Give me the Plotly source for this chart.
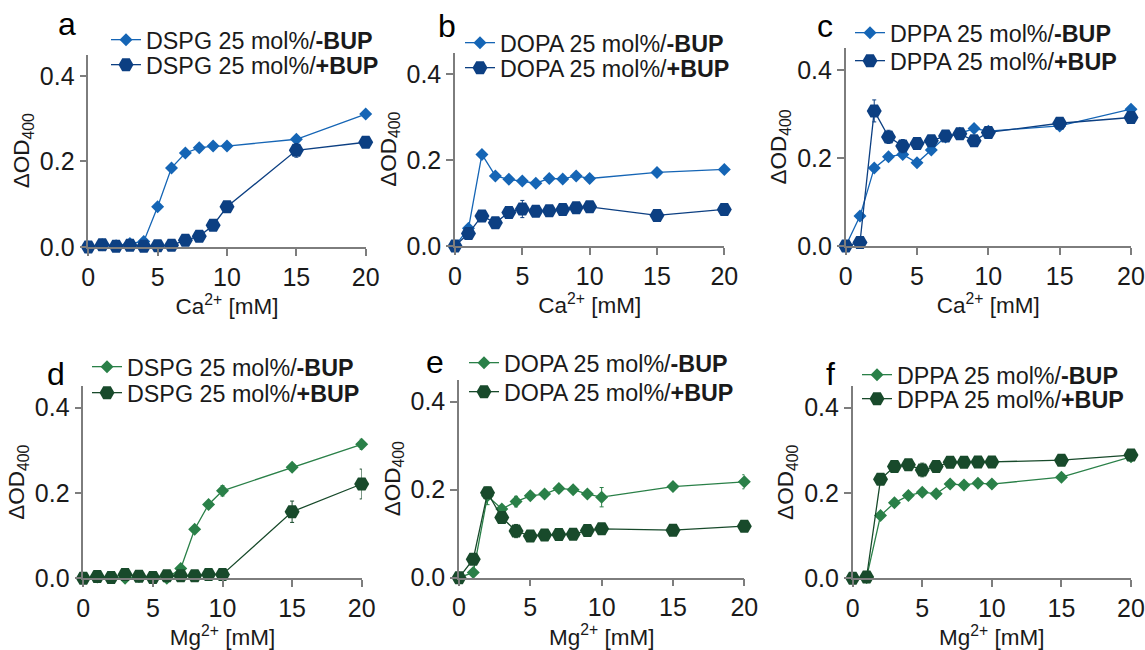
import plotly.graph_objects as go

# ---------------- data ----------------
conc = [0, 1, 2, 3, 4, 5, 6, 7, 8, 9, 10, 15, 20]
x_ticks = [0, 5, 10, 15, 20]
y_ticks = [0.0, 0.2, 0.4]

# Ca2+ panels
a_minus = [0.0, 0.005, 0.003, 0.008, 0.013, 0.094, 0.185, 0.220, 0.232, 0.236, 0.236, 0.252, 0.311]
a_minus_err = [0.002, 0.003, 0.003, 0.003, 0.003, 0.005, 0.005, 0.004, 0.004, 0.003, 0.003, 0.006, 0.004]
a_plus = [0.0, 0.005, 0.002, 0.004, 0.002, 0.003, 0.004, 0.016, 0.025, 0.051, 0.094, 0.226, 0.245]
a_plus_err = [0.002, 0.003, 0.002, 0.003, 0.002, 0.002, 0.002, 0.003, 0.003, 0.004, 0.004, 0.016, 0.005]

b_minus = [0.0, 0.041, 0.213, 0.163, 0.155, 0.151, 0.146, 0.157, 0.156, 0.163, 0.157, 0.171, 0.178]
b_minus_err = [0.002, 0.005, 0.005, 0.004, 0.003, 0.003, 0.003, 0.004, 0.003, 0.003, 0.003, 0.003, 0.003]
b_plus = [0.0, 0.029, 0.070, 0.054, 0.078, 0.086, 0.081, 0.082, 0.085, 0.089, 0.091, 0.071, 0.085]
b_plus_err = [0.002, 0.005, 0.004, 0.004, 0.004, 0.020, 0.004, 0.004, 0.004, 0.008, 0.004, 0.003, 0.003]

c_minus = [0.0, 0.068, 0.177, 0.203, 0.208, 0.189, 0.218, 0.248, 0.256, 0.267, 0.261, 0.273, 0.311]
c_minus_err = [0.002, 0.004, 0.005, 0.004, 0.004, 0.004, 0.005, 0.008, 0.008, 0.004, 0.004, 0.004, 0.004]
c_plus = [0.0, 0.008, 0.307, 0.248, 0.227, 0.233, 0.239, 0.250, 0.255, 0.239, 0.258, 0.279, 0.292]
c_plus_err = [0.002, 0.003, 0.025, 0.015, 0.015, 0.006, 0.006, 0.006, 0.006, 0.004, 0.004, 0.004, 0.004]

# Mg2+ panels
d_minus = [0.0, 0.003, 0.002, 0.0, 0.004, 0.001, 0.0, 0.023, 0.115, 0.173, 0.205, 0.260, 0.314]
d_minus_err = [0.002, 0.002, 0.002, 0.002, 0.002, 0.002, 0.002, 0.004, 0.004, 0.005, 0.012, 0.004, 0.012]
d_plus = [0.0, 0.004, 0.002, 0.009, 0.005, 0.002, 0.006, 0.006, 0.006, 0.009, 0.009, 0.156, 0.221]
d_plus_err = [0.002, 0.002, 0.002, 0.003, 0.002, 0.002, 0.002, 0.002, 0.002, 0.002, 0.002, 0.025, 0.035]

e_minus = [0.0, 0.012, 0.186, 0.156, 0.173, 0.186, 0.190, 0.203, 0.200, 0.190, 0.183, 0.207, 0.218]
e_minus_err = [0.002, 0.004, 0.020, 0.006, 0.012, 0.005, 0.005, 0.005, 0.005, 0.005, 0.022, 0.005, 0.016]
e_plus = [0.0, 0.042, 0.193, 0.137, 0.106, 0.095, 0.097, 0.098, 0.099, 0.107, 0.111, 0.108, 0.117]
e_plus_err = [0.002, 0.004, 0.010, 0.006, 0.015, 0.012, 0.012, 0.004, 0.004, 0.004, 0.004, 0.004, 0.004]

f_minus = [0.0, 0.002, 0.147, 0.177, 0.194, 0.202, 0.198, 0.221, 0.219, 0.223, 0.221, 0.237, 0.285]
f_minus_err = [0.002, 0.002, 0.005, 0.004, 0.004, 0.004, 0.004, 0.004, 0.004, 0.004, 0.004, 0.004, 0.006]
f_plus = [0.0, 0.003, 0.232, 0.262, 0.266, 0.254, 0.262, 0.272, 0.272, 0.273, 0.273, 0.277, 0.289]
f_plus_err = [0.002, 0.002, 0.006, 0.005, 0.005, 0.016, 0.004, 0.004, 0.004, 0.004, 0.004, 0.004, 0.004]

panel_letters = ["a", "b", "c", "d", "e", "f"]
lipids = ["DSPG", "DOPA", "DPPA", "DSPG", "DOPA", "DPPA"]
ions = ["Ca", "Ca", "Ca", "Mg", "Mg", "Mg"]

# ---------------- styling / layout ----------------
W, H = 1145, 650
FONT = "Liberation Sans, Arial, sans-serif"
TXT = "#1a1a1a"
AX = "#7d7d7d"
colors = {
    "Ca": ("#1565b5", "#0c3f82"),
    "Mg": ("#2a8048", "#184a2b"),
}


def px(x):
    return x / W


def py(y):
    return 1 - y / H


# pixel frame of each panel: x at 0, x at 20, y at 0.0, y at 0.45
frames = [
    (88.3, 365.7, 247.0, 54.6),
    (455.0, 724.3, 246.0, 52.5),
    (845.7, 1131.0, 246.0, 48.0),
    (83.3, 361.7, 578.3, 386.3),
    (459.0, 744.3, 577.7, 379.7),
    (852.7, 1131.0, 578.3, 386.4),
]
letter_pos = [(67, 24), (447, 26), (825, 26), (56, 374), (435, 362), (830, 374)]
legend_pos = [  # legend box left x, row1 y, row2 y
    (112, 40, 65),
    (466, 43, 68),
    (856, 33, 61),
    (93, 367, 393),
    (470, 363, 392),
    (863, 375, 399),
]

series = [
    (a_minus, a_minus_err, a_plus, a_plus_err),
    (b_minus, b_minus_err, b_plus, b_plus_err),
    (c_minus, c_minus_err, c_plus, c_plus_err),
    (d_minus, d_minus_err, d_plus, d_plus_err),
    (e_minus, e_minus_err, e_plus, e_plus_err),
    (f_minus, f_minus_err, f_plus, f_plus_err),
]

fig = go.Figure()
layout = dict(
    width=W, height=H,
    margin=dict(l=0, r=0, t=0, b=0, pad=0),
    paper_bgcolor="white", plot_bgcolor="white",
    font=dict(family=FONT, color=TXT, size=22),
    showlegend=True,
    annotations=[],
)

for i in range(6):
    n = "" if i == 0 else str(i + 1)
    xa, ya = "x" + n, "y" + n
    x0, x1, yb, yt = frames[i]
    light, dark = colors[ions[i]]
    mvals, merr, pvals, perr = series[i]

    leg1 = "legend" + ("" if i == 0 else str(2 * i + 1))
    leg2 = "legend" + str(2 * i + 2)

    fig.add_trace(go.Scatter(
        x=conc, y=mvals, xaxis=xa, yaxis=ya, mode="lines+markers",
        name=f"{lipids[i]} 25 mol%/<b>-BUP</b>", legend=leg1, showlegend=True,
        line=dict(color=light, width=1.3),
        marker=dict(symbol="diamond", size=10, color=light),
        error_y=dict(type="data", array=merr, color=light, thickness=1, width=2),
        cliponaxis=False,
    ))
    fig.add_trace(go.Scatter(
        x=conc, y=pvals, xaxis=xa, yaxis=ya, mode="lines+markers",
        name=f"{lipids[i]} 25 mol%/<b>+BUP</b>", legend=leg2, showlegend=True,
        line=dict(color=dark, width=1.3),
        marker=dict(symbol="hexagon2", size=15, color=dark),
        error_y=dict(type="data", array=perr, color=dark, thickness=1, width=2),
        cliponaxis=False,
    ))

    layout["xaxis" + n] = dict(
        domain=[px(x0), px(x1)], range=[0, 20], anchor=ya, automargin=False,
        tickvals=x_ticks, ticks="outside", ticklen=7, tickwidth=1.5, tickcolor=AX,
        showline=True, linecolor=AX, linewidth=1.5, showgrid=False, zeroline=False,
        tickfont=dict(size=25, color=TXT),
        title=dict(text=f"{ions[i]}<sup>2+</sup> [mM]", font=dict(size=22.5, color=TXT), standoff=2),
    )
    layout["yaxis" + n] = dict(
        domain=[py(yb), py(yt)], range=[0, 0.45], anchor=xa, automargin=False,
        tickvals=y_ticks, tickformat=".1f", ticks="outside", ticklen=7, tickwidth=1.5, tickcolor=AX,
        showline=True, linecolor=AX, linewidth=1.5, showgrid=False, zeroline=False,
        tickfont=dict(size=25, color=TXT),
        title=dict(text="ΔOD<sub>400</sub>", font=dict(size=22.5, color=TXT), standoff=4),
    )

    lx, ly1, ly2 = legend_pos[i]
    for leg, ly in ((leg1, ly1), (leg2, ly2)):
        layout[leg] = dict(
            x=px(lx - 6), y=py(ly), xanchor="left", yanchor="middle",
            bgcolor="rgba(0,0,0,0)", borderwidth=0, visible=True,
            font=dict(size=23.3, color=TXT, family=FONT),
            itemwidth=30, tracegroupgap=0,
        )

    lxp, lyp = letter_pos[i]
    layout["annotations"].append(dict(
        text=panel_letters[i], x=px(lxp), y=py(lyp), xref="paper", yref="paper",
        xanchor="center", yanchor="middle", showarrow=False,
        font=dict(size=32, color="#000000", family=FONT),
    ))

fig.update_layout(**layout)
fig.write_html(
    "out.html",
    config={"displayModeBar": False},
    post_script="document.body.style.margin='0';document.body.style.overflow='hidden';",
)
